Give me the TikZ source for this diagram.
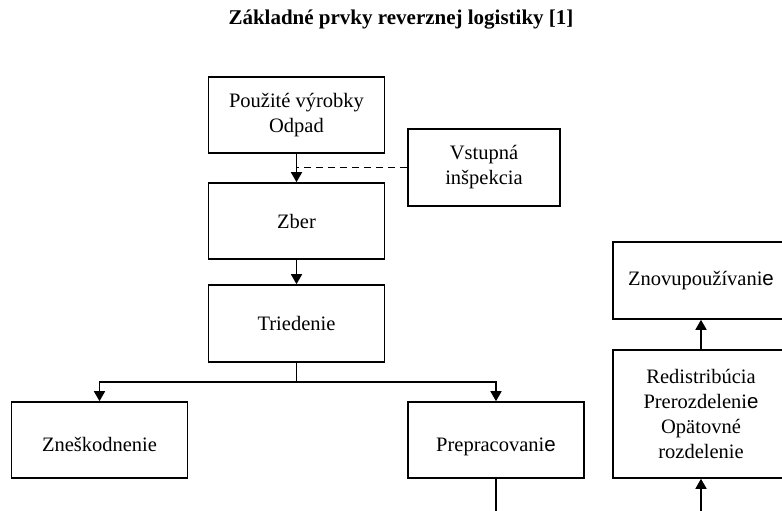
\documentclass[tikz,border=0pt]{standalone}
\usepackage{fontspec}
\setmainfont{Liberation Serif}
\newfontfamily\arialfont{Liberation Sans}
\usetikzlibrary{arrows.meta}

\begin{document}
\begin{tikzpicture}[x=1pt, y=-1pt,
    box/.style={draw, line width=1.6pt, minimum width=176pt, minimum height=76pt,
      align=center, inner sep=2pt, font=\fontsize{20.5}{25}\selectfont},
    low/.style={text height=27pt, text depth=5pt},
    flow/.style={-{Triangle[length=10pt,width=11pt]}, line width=1.6pt},
    link/.style={line width=1.6pt}]
    \useasboundingbox (0,0) rectangle (782,511);
    \clip (0,0) rectangle (782,511);

    % title
    \node[font=\fontsize{21}{25}\selectfont\bfseries] (title) at (401,20)
      {Základné prvky reverznej logistiky [1]};

    % collection chain
    \node[box] (used) at (296.5,115) {Použité výrobky\\Odpad};
    \node[box, minimum width=152pt, minimum height=77pt] (inspect) at (484,167.5) {Vstupná\\inšpekcia};
    \node[box] (zber) at (296.5,221) {Zber};
    \node[box, minimum height=77pt] (sort) at (296.5,323.5) {Triedenie};

    % branches
    \node[box, low] (dispose) at (99.5,440) {Zneškodnenie};
    \node[box, low] (rework) at (496,440) {Prepracovani{\arialfont e}};
    \node[box, minimum height=77pt] (reuse) at (701,280.5) {Znovupoužívani{\arialfont e}};
    \node[box, minimum height=128pt] (redist) at (701,414)
      {Redistribúcia\\Prerozdeleni{\arialfont e}\\Opätovné\\rozdelenie};

    \coordinate (split) at (296.5,382);
    \coordinate (reworkend) at (496,511);
    \coordinate (redistin) at (701,511);

    % connectors
    \draw[flow] (used) -- (zber);
    \draw[link, dash pattern=on 7pt off 5pt] (inspect.west) -- (inspect.west -| used.south);
    \draw[flow] (zber) -- (sort);
    \draw[link] (sort.south) -- (split);
    \draw[flow] (split) -| (dispose.north);
    \draw[flow] (split) -| (rework.north);
    \draw[link] (rework.south) -- (reworkend);
    \draw[flow] (redistin) -- (redist.south);
    \draw[flow] (redist) -- (reuse);
\end{tikzpicture}
\end{document}
